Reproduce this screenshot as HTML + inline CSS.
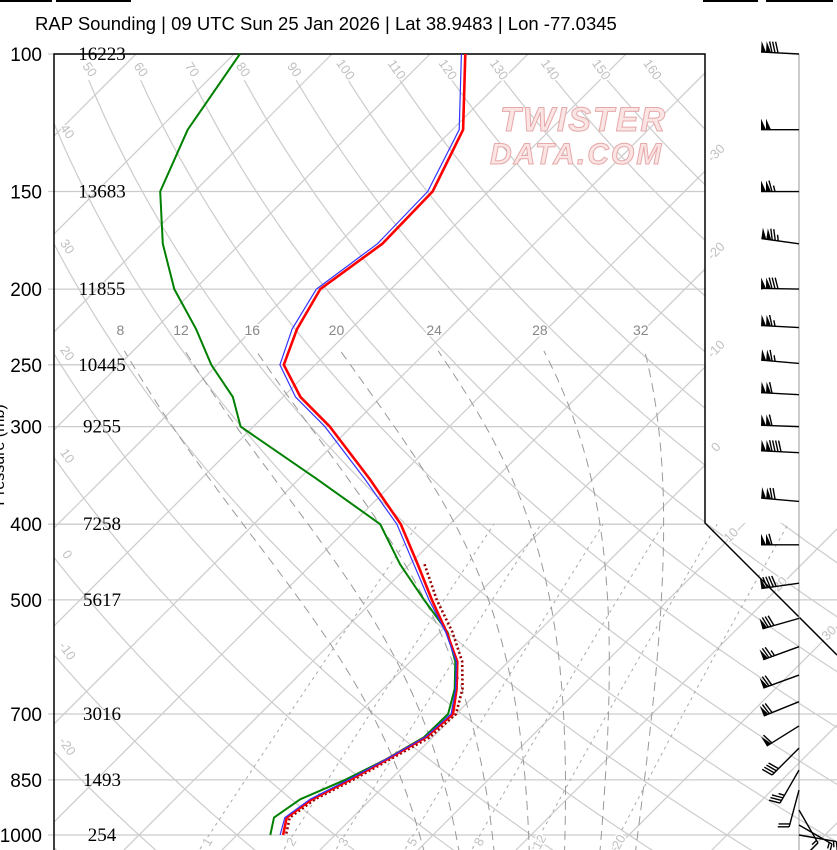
<!DOCTYPE html>
<html><head><meta charset="utf-8"><title>RAP Sounding</title>
<style>
html,body{margin:0;padding:0;background:#fff;}
svg{display:block;}
.gl{font-family:"Liberation Sans",sans-serif;font-size:13px;fill:#c0c0c0;}
</style></head>
<body>
<svg id="chart" width="837" height="850" viewBox="0 0 837 850" xmlns="http://www.w3.org/2000/svg">
  <rect x="0" y="0" width="837" height="850" fill="#fff"/>
  <rect x="0" y="0" width="52" height="2" fill="#000"/>
  <rect x="56" y="0" width="75" height="2" fill="#000"/>
  <rect x="703" y="0" width="55" height="2" fill="#000"/>
  <rect x="766" y="0" width="67" height="2" fill="#000"/>
  <text x="35" y="30" font-family="Liberation Sans, sans-serif" font-size="18.5" fill="#000">RAP Sounding | 09 UTC Sun 25 Jan 2026 | Lat 38.9483 | Lon -77.0345</text>
  <text transform="translate(4,455) rotate(-90)" text-anchor="middle" font-family="Liberation Sans, sans-serif" font-size="16" fill="#000">Pressure (mb)</text>
  <defs>
    <clipPath id="plotclip"><polygon points="54,54 705,54 705,523 837,523 837,850 54,850"/></clipPath>
  </defs>
  <g id="grid" clip-path="url(#plotclip)"></g>
  <g id="gridlabels"></g>
  <g font-family="Liberation Sans, sans-serif" font-style="italic" font-weight="bold" fill="#fbe4e4" stroke="#e6a9a9" stroke-width="1">
    <text x="500" y="131" font-size="34" letter-spacing="2">TWISTER</text>
    <text x="490" y="164" font-size="30" letter-spacing="2">DATA.COM</text>
  </g>
  <g id="frame"></g>
  <g id="traces"></g>
  <g id="winds"></g>
  <g id="labels"></g>
</svg>
<script>
// ---- data ----
const P = [100,125,150,175,200,225,250,275,300,350,400,450,500,550,600,650,700,750,800,850,900,950,1000];
const TEMP = [-66.4,-58.9,-55.7,-55.5,-57.2,-55.5,-53.2,-48.2,-42.2,-32.8,-25.0,-19.2,-14.1,-9.3,-5.2,-2.5,-0.3,-0.7,-2.4,-4.1,-6.0,-6.7,-5.3];
const DEWP = [-89.4,-87.0,-83.5,-77.9,-72.1,-65.8,-60.6,-55.1,-51.3,-38.2,-27.1,-21.0,-14.9,-9.2,-5.4,-2.7,-0.8,-0.9,-2.5,-4.6,-7.2,-8.0,-6.6];
const WETB = [-66.8,-59.3,-56.2,-56.0,-57.6,-56.0,-53.6,-48.7,-42.7,-33.3,-25.4,-19.6,-14.4,-9.4,-5.3,-2.6,-0.5,-0.8,-2.5,-4.3,-6.2,-6.9,-5.6];
const PARCEL_P = [450,500,550,600,650,700,750,800,850,900,950,1000];
const PARCEL_T = [-18.5,-13.6,-8.7,-4.7,-1.9,0.0,-0.3,-2.1,-3.8,-5.7,-6.4,-5.0];
const LEVEL_P = [100,150,200,250,300,400,500,700,850,1000];
const HEIGHTS = ["16223","13683","11855","10445","9255","7258","5617","3016","1493","254"];
const WIND_P = [100,125,150,175,200,224,249,273,300,324,374,425,476,528,574,624,675,725,774,826,876,929,971,1000];
const WIND_DIR = [273,270,270,278,271,273,275,273,272,273,275,270,262,254,250,250,248,238,225,210,195,150,120,100];
const WIND_SPD = [130,100,115,125,130,115,115,110,110,140,120,110,90,80,75,70,70,60,40,35,20,15,15,15];
const ISOTHERMS = [-110,-100,-90,-80,-70,-60,-50,-40,-30,-20,-10,0,10,20,30,40,50];
const DRY_THETA = [-40,-30,-20,-10,0,10,20,30,40,50,60,70,80,90,100,110,120,130,140,150,160,170,180];
const MOIST_THETA = [8,12,16,20,24,28,32];
const MIX_W = [1,2,3,5,8,12,20];

// ---- axis functions ----
function yP(p){ return 54 + 781*Math.log10(p/100); }
function xTP(t,p){ return 715 + 9.8*t - (yP(p)-455); }
const NS="http://www.w3.org/2000/svg";
function mk(tag, attrs, parent){ const e=document.createElementNS(NS,tag); for(const k in attrs) e.setAttribute(k,attrs[k]); parent.appendChild(e); return e; }
function pathFrom(pts){ return pts.map((q,i)=>(i?'L':'M')+q[0].toFixed(1)+','+q[1].toFixed(1)).join(''); }

const grid=document.getElementById('grid'), gl=document.getElementById('gridlabels');
const isoG=document.createElementNS(NS,'g'); grid.parentNode.insertBefore(isoG,grid);
LEVEL_P.forEach(p=>{
  const y=yP(p);
  const l=mk('line',{x1:48,x2:(p>=500?837:705),y1:y,y2:y,stroke:'#cccccc','stroke-width':1.3},isoG);
  
  
});
// isotherms
ISOTHERMS.forEach(t=>{
  const l=mk('line',{x1:xTP(t,1100),y1:yP(1100),x2:xTP(t,90),y2:yP(90),stroke:'#cccccc','stroke-width':1.2},grid);
  
  
});
ISOTHERMS.forEach(t=>{
  let lx,ly;
  if(t<=0){ ly=444+9.8*t+6; lx=719; if(ly<70||ly>520) return; }
  else { ly=(988+9.8*t)/2 - 5; lx=ly+182+14; if(lx>836) return; }
  const tx=mk('text',{x:lx,y:ly,class:'gl','text-anchor':'middle',transform:`rotate(-45 ${lx} ${ly})`},gl);
  tx.textContent=String(t);
  
  
});
// dry adiabats
DRY_THETA.forEach(th=>{
  const pts=[];
  for(let p=108;p<=1080;p+=6){ const t=(th+273.15)*Math.pow(p/1000,0.286)-273.15; pts.push([xTP(t,p),yP(p)]); }
  const l=mk('path',{d:pathFrom(pts),fill:'none',stroke:'#cccccc','stroke-width':1.2},grid);
  
  
  const t0=(th+273.15)*Math.pow(103/1000,0.286)-273.15; const x0=xTP(t0,103)+4;
  if(x0>75 && x0<690){
    const tx=mk('text',{x:x0,y:72,class:'gl','text-anchor':'middle',transform:`rotate(55 ${x0} 72)`},gl);
    tx.textContent=String(th);
    
    
  } else {
    let best=null;
    for(let p=100;p<=1050;p+=1){ const t=(th+273.15)*Math.pow(p/1000,0.286)-273.15; const x=xTP(t,p); if(Math.abs(x-64)<1.5){best=p;break;} }
    if(best){ const yy=yP(best)-14;
      if(yy>100 && yy<840){
      const tx=mk('text',{x:67,y:yy+4,class:'gl','text-anchor':'middle',transform:`rotate(55 67 ${yy})`},gl);
      tx.textContent=String(th);
      
      }
    }
  }
});
// moist adiabats
function es(t){ return 6.112*Math.exp(17.67*t/(t+243.5)); }
const MX=(x)=>117+(x-87)*0.927;
MOIST_THETA.forEach(tw=>{
  const pts=[];
  let td=tw, pd=1000;
  while(pd<1060){ const T=td+273.15, e=es(td), rs=0.622*e/(pd-e);
    const g=(287*T+2.5e6*rs)/(pd*(1004+2.5e6*2.5e6*rs*0.622/(287*T*T))); td+=g*2; pd+=2; }
  let tc=td, pc=pd;
  while(pc>240){ pts.push([MX(xTP(tc,pc)),yP(pc)]);
    const T=tc+273.15, e=es(tc), rs=0.622*e/(pc-e);
    const g=(287*T+2.5e6*rs)/(pc*(1004+2.5e6*2.5e6*rs*0.622/(287*T*T)));
    tc-=g*2; pc-=2; }
  pts.push([MX(xTP(tc,pc)),yP(pc)]);
  const l=mk('path',{d:pathFrom(pts),fill:'none',stroke:'#999','stroke-width':1,'stroke-dasharray':'9,6'},grid);
  
  
  const lx=MX(xTP(tc,pc))-4;
  const tx=mk('text',{x:lx,y:335,'text-anchor':'middle','font-family':'Liberation Sans, sans-serif','font-size':'14',fill:'#888'},gl);
  tx.textContent=String(tw);
  
  
});
// mixing ratio lines
const MIX_SHIFT=42;
function tdw(w,p){ const e=w*p/(622+w); const a=Math.log(e/6.112); return 243.5*a/(17.67-a); }
MIX_W.forEach(w=>{
  const pts=[]; for(let p=1060;p>=400;p-=10){ pts.push([xTP(tdw(w,p),p)+MIX_SHIFT,yP(p)]); }
  const l=mk('path',{d:pathFrom(pts),fill:'none',stroke:'#aaa','stroke-width':1,'stroke-dasharray':'3,4'},grid);
  
  
  const lx=xTP(tdw(w,1030),1030)+MIX_SHIFT+5;
  const tx=mk('text',{x:lx,y:846,class:'gl','text-anchor':'middle',transform:`rotate(-60 ${lx} 842)`},gl);
  tx.setAttribute('fill','#aaa');
  tx.textContent=String(w);
  
  
});
gl.querySelectorAll('text').forEach(t=>{ t.setAttribute('stroke','#fff'); t.setAttribute('stroke-width','3'); t.setAttribute('paint-order','stroke'); });

// frame
const fr=document.getElementById('frame');
const fpath=mk('path',{d:'M54,850 L54,54 L705,54 L705,523 L837,655',fill:'none',stroke:'#000','stroke-width':1.5},fr);


const staff=mk('line',{x1:799,x2:799,y1:54,y2:850,stroke:'#999','stroke-width':1},fr);



// traces
const tr=document.getElementById('traces');
function trace(pa,ta,attrs,name){
  const d=pathFrom(pa.map((p,i)=>[xTP(ta[i],p),yP(p)]));
  const a=Object.assign({d:d,fill:'none','stroke-linejoin':'round'},attrs);
  const e=mk('path',a,tr);
  
  
}
trace(PARCEL_P,PARCEL_T,{stroke:'#990000','stroke-width':2.6,'stroke-dasharray':'2,2.5'},'parcel-trace');
trace(P,DEWP,{stroke:'#008000','stroke-width':2},'dewpoint-trace');
trace(P,TEMP,{stroke:'#ff0000','stroke-width':2.6},'temperature-trace');
trace(P,WETB,{stroke:'#3333ff','stroke-width':1.2},'wetbulb-trace');

// wind barbs
const wg=document.getElementById('winds');
WIND_P.forEach((p,i)=>{
  const g=mk('g',{},wg);
  
  
  const y=yP(p), bx=799, L=38;
  const a=WIND_DIR[i]*Math.PI/180; const ux=Math.sin(a), uy=-Math.cos(a);
  const nx=-uy, ny=ux;
  const P2=(s)=>[bx+ux*s, y+uy*s];
  const tip=P2(L);
  mk('line',{x1:bx,y1:y,x2:tip[0],y2:tip[1],stroke:'#000','stroke-width':1.4},g);
  let spd=Math.round(WIND_SPD[i]/5)*5, pos=L;
  while(spd>=50){ const a1=P2(pos), a2=P2(pos-5);
    mk('polygon',{points:`${a1[0]},${a1[1]} ${a1[0]+nx*11},${a1[1]+ny*11} ${a2[0]},${a2[1]}`,fill:'#000'},g);
    pos-=5; spd-=50; }
  if(pos<L) pos-=1;
  while(spd>=10){ const a1=P2(pos);
    mk('line',{x1:a1[0],y1:a1[1],x2:a1[0]+nx*11+ux*3,y2:a1[1]+ny*11+uy*3,stroke:'#000','stroke-width':1.4},g);
    pos-=3; spd-=10; }
  if(spd>=5){ const a1=P2(pos);
    mk('line',{x1:a1[0],y1:a1[1],x2:a1[0]+nx*6+ux*1.5,y2:a1[1]+ny*6+uy*1.5,stroke:'#000','stroke-width':1.4},g); }
});

// pressure and height labels
const lb=document.getElementById('labels');
LEVEL_P.forEach((p,i)=>{
  const y=yP(p);
  const t=mk('text',{x:42,y:y+7,'text-anchor':'end','font-family':'Liberation Sans, sans-serif','font-size':'19',fill:'#000'},lb);
  t.textContent=String(p);
  
  
  const h=mk('text',{x:102,y:y+6,'text-anchor':'middle','font-family':'Liberation Serif, serif','font-size':'19',fill:'#000'},lb);
  h.textContent=HEIGHTS[i];
  
  
});
</script>
</body></html>
